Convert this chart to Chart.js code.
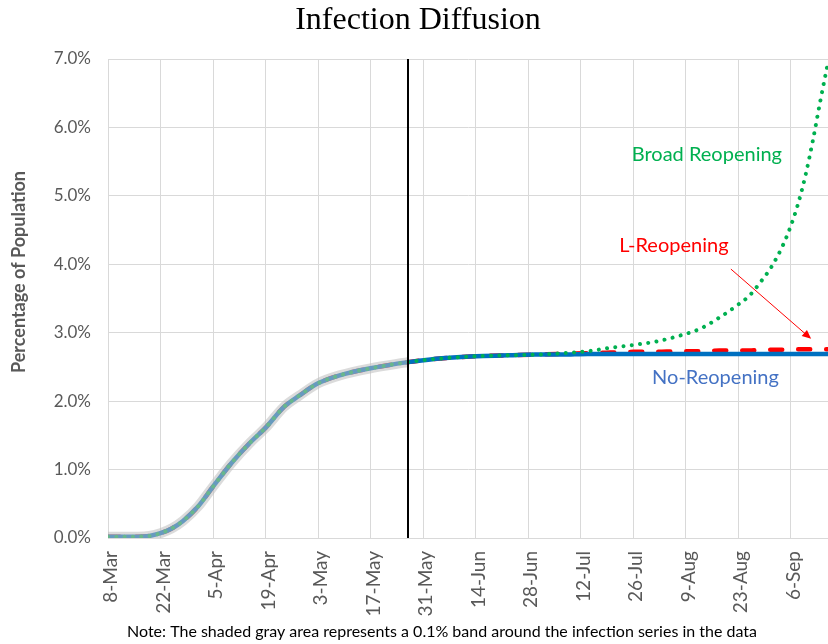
<!DOCTYPE html>
<html lang="en">
<head>
<meta charset="UTF-8">
<title>Infection Diffusion</title>
<style>
  body { margin: 0; background: #fff; }
  .wrap { position: relative; width: 828px; height: 644px; }
</style>
</head>
<body>
<div class="wrap"><canvas id="diffusion"></canvas></div>
<script src="https://cdn.jsdelivr.net/npm/chart.js"></script>
<script>
  // x values are days counted from 8-Mar
  var xTickLabels = ["8-Mar", "22-Mar", "5-Apr", "19-Apr", "3-May", "17-May", "31-May",
                     "14-Jun", "28-Jun", "12-Jul", "26-Jul", "9-Aug", "23-Aug", "6-Sep"];
  var tickStep = 14;
  var lastDay = 192;
  var reopenDay = 80; // 27-May

  // observed infections (% of population)
  var histDays = [0, 4, 8, 11, 14, 17, 20, 24, 28, 33, 38, 42, 47, 51, 56, 62, 70, 80];
  var histPct = [0.02, 0.02, 0.02, 0.03, 0.07, 0.14, 0.25, 0.46, 0.75, 1.10, 1.40, 1.61,
                 1.92, 2.08, 2.26, 2.38, 2.48, 2.57];

  // scenarios after reopening day
  var projDays = [86, 93, 100, 107, 114, 121, 128, 134, 140, 146, 152, 158, 163, 167, 171,
                  174, 177, 180, 182, 184, 186, 188, 190, 192];
  var noReopening = [2.61, 2.64, 2.66, 2.67, 2.68, 2.68, 2.69, 2.69, 2.69, 2.69, 2.69, 2.69,
                     2.69, 2.69, 2.69, 2.69, 2.69, 2.69, 2.69, 2.69, 2.69, 2.69, 2.69, 2.69];
  var lReopening = [2.61, 2.64, 2.66, 2.67, 2.68, 2.69, 2.70, 2.71, 2.72, 2.72, 2.73, 2.73,
                    2.74, 2.74, 2.74, 2.75, 2.75, 2.75, 2.75, 2.76, 2.76, 2.76, 2.76, 2.76];
  var broadReopening = [2.61, 2.64, 2.66, 2.67, 2.68, 2.70, 2.73, 2.78, 2.82, 2.87, 2.95, 3.06,
                        3.22, 3.37, 3.54, 3.74, 3.97, 4.28, 4.55, 4.88, 5.30, 5.82, 6.40, 6.95];

  // text labels placed in data units
  var seriesNotes = [
    { text: "Broad Reopening", day: 159.7, pct: 5.60, color: "#00b050" },
    { text: "L-Reopening", day: 150.9, pct: 4.27, color: "#ff0000" },
    { text: "No-Reopening", day: 162.0, pct: 2.35, color: "#4472c4" }
  ];
  var arrowFrom = [166.1, 3.93];
  var arrowTo = [187.5, 2.91];

  var fonte = "Lato, 'Open Sans', sans-serif";

  function pontos(dias, valores) {
    return dias.map(function (d, i) { return { x: d, y: valores[i] }; });
  }
  var historico = pontos(histDays, histPct);
  function cenario(valores) {
    return historico.concat(pontos(projDays, valores));
  }

  var textos = {
    id: "textos",
    afterDraw: function (chart) {
      var c = chart.ctx, xs = chart.scales.x, ys = chart.scales.y;
      c.save();
      // title
      c.fillStyle = "#000";
      c.font = "32px 'Liberation Serif', serif";
      c.textAlign = "center";
      c.textBaseline = "alphabetic";
      c.fillText("Infection Diffusion", 418, 29);
      // y axis title
      c.save();
      c.translate(19, 272);
      c.rotate(-Math.PI / 2);
      c.fillStyle = "#595959";
      c.font = "bold 18px " + fonte;
      c.textBaseline = "middle";
      c.fillText("Percentage of Population", 0, 0);
      c.restore();
      // series labels
      c.font = "20px " + fonte;
      c.textBaseline = "middle";
      seriesNotes.forEach(function (n) {
        c.fillStyle = n.color;
        c.fillText(n.text, xs.getPixelForValue(n.day), ys.getPixelForValue(n.pct));
      });
      // arrow
      var x0 = xs.getPixelForValue(arrowFrom[0]), y0 = ys.getPixelForValue(arrowFrom[1]);
      var x1 = xs.getPixelForValue(arrowTo[0]), y1 = ys.getPixelForValue(arrowTo[1]);
      var ang = Math.atan2(y1 - y0, x1 - x0);
      c.strokeStyle = "#ff0000";
      c.fillStyle = "#ff0000";
      c.lineWidth = 1;
      c.beginPath();
      c.moveTo(x0, y0);
      c.lineTo(x1 - 6 * Math.cos(ang), y1 - 6 * Math.sin(ang));
      c.stroke();
      c.beginPath();
      c.moveTo(x1, y1);
      c.lineTo(x1 - 9 * Math.cos(ang) + 4 * Math.sin(ang), y1 - 9 * Math.sin(ang) - 4 * Math.cos(ang));
      c.lineTo(x1 - 9 * Math.cos(ang) - 4 * Math.sin(ang), y1 - 9 * Math.sin(ang) + 4 * Math.cos(ang));
      c.closePath();
      c.fill();
      // note
      c.fillStyle = "#000";
      c.font = "16px " + fonte;
      c.textBaseline = "alphabetic";
      c.fillText("Note: The shaded gray area represents a 0.1% band around the infection series in the data", 442, 637);
      c.restore();
    }
  };

  new Chart(document.getElementById("diffusion"), {
    type: "line",
    data: {
      datasets: [
        {
          label: "Reopening date",
          data: [{ x: reopenDay, y: 0 }, { x: reopenDay, y: 7 }],
          borderColor: "#000",
          borderWidth: 2,
          pointRadius: 0,
          order: 0
        },
        {
          label: "Band",
          data: historico,
          borderColor: "rgba(190, 190, 190, 0.55)",
          borderWidth: 10,
          pointRadius: 0,
          cubicInterpolationMode: "monotone",
          order: 1
        },
        {
          label: "Broad Reopening",
          data: cenario(broadReopening),
          borderColor: "#00b050",
          borderWidth: 4,
          borderDash: [0.01, 8.3],
          borderCapStyle: "round",
          pointRadius: 0,
          cubicInterpolationMode: "monotone",
          order: 2
        },
        {
          label: "No-Reopening",
          data: cenario(noReopening),
          borderColor: "#0070c0",
          borderWidth: 4.5,
          pointRadius: 0,
          cubicInterpolationMode: "monotone",
          order: 3
        },
        {
          label: "L-Reopening",
          data: cenario(lReopening),
          borderColor: "#ff0000",
          borderWidth: 4.5,
          borderDash: [12, 16],
          borderCapStyle: "round",
          pointRadius: 0,
          cubicInterpolationMode: "monotone",
          order: 4
        }
      ]
    },
    options: {
      responsive: true,
      maintainAspectRatio: false,
      animation: false,
      layout: { padding: { top: 59, left: 0, right: 0, bottom: 0 } },
      plugins: {
        legend: { display: false },
        tooltip: { enabled: false },
        title: { display: false }
      },
      scales: {
        x: {
          type: "linear",
          min: 0,
          max: lastDay,
          afterFit: function (s) { s.height = 106; },
          grid: { color: "#d9d9d9", drawTicks: false },
          border: { color: "#d9d9d9" },
          ticks: {
            stepSize: tickStep,
            includeBounds: false,
            autoSkip: false,
            minRotation: 90,
            maxRotation: 90,
            padding: 13,
            labelOffset: 3,
            color: "#595959",
            font: { family: fonte, size: 19 },
            callback: function (v) { return xTickLabels[v / tickStep]; }
          }
        },
        y: {
          min: 0,
          max: 7,
          afterFit: function (s) { s.width = 108; },
          grid: { color: "#d9d9d9", drawTicks: false },
          border: { color: "#d9d9d9" },
          ticks: {
            stepSize: 1,
            padding: 17,
            color: "#595959",
            font: { family: fonte, size: 17 },
            callback: function (v) { return v.toFixed(1) + "%"; }
          }
        }
      }
    },
    plugins: [textos]
  });
</script>
</body>
</html>
